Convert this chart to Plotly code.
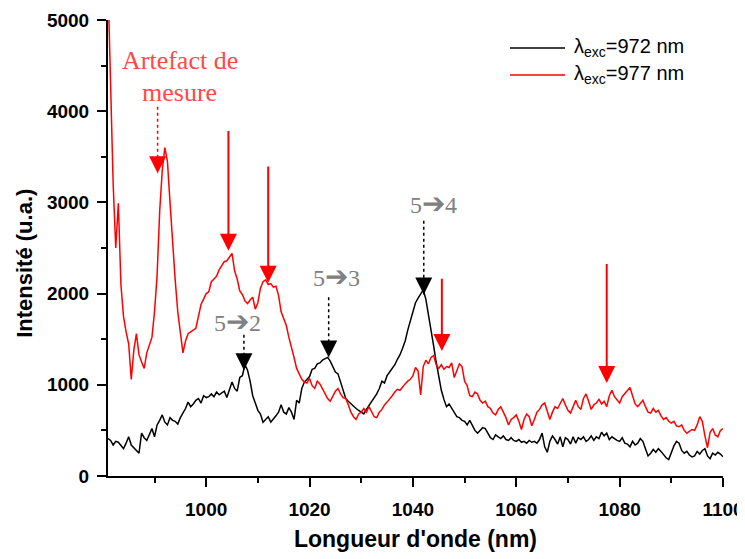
import plotly.graph_objects as go

# Wavelength grid: start and step (nm)
wl_start = 981.0
wl_step = 0.5

# Intensity, lambda_exc = 972 nm (black), 981.0 .. 1100.0 nm every 0.5 nm
int_972 = [
    410, 390, 340, 380, 370, 330, 300, 360, 430, 340,
    310, 270, 250, 470, 420, 390, 460, 520, 430, 560,
    610, 670, 590, 560, 640, 610, 600, 570, 640, 690,
    740, 810, 760, 790, 830, 850, 800, 880, 860, 870,
    900, 870, 920, 890, 910, 930, 860, 950, 1030, 960,
    930, 1080, 1100, 1220, 1160, 1040, 880, 800, 720, 680,
    590, 620, 650, 590, 620, 660, 700, 780, 700, 680,
    750, 700, 620, 830, 800, 960, 1030, 1060, 1090, 1170,
    1180, 1230, 1240, 1270, 1290, 1300, 1260, 1200, 1140, 1120,
    1030, 920, 850, 820, 790, 760, 740, 720, 700, 680,
    730, 770, 810, 850, 900, 960, 1040, 1020, 1100, 1140,
    1180, 1220, 1280, 1330, 1400, 1480, 1600, 1700, 1780, 1900,
    1950, 1990, 2040, 1940, 1780, 1620, 1430, 1250, 1080, 940,
    840, 760, 790, 740, 700, 650, 640, 610, 600, 560,
    610, 560, 500, 470, 500, 530, 520, 470, 420, 400,
    450, 430, 410, 440, 400, 390, 420, 390, 380, 400,
    370, 380, 360, 390, 370, 380, 360, 400, 470, 320,
    260, 380, 440, 400, 350, 430, 320, 420, 400, 350,
    430, 360, 420, 400, 430, 380, 400, 440, 390, 430,
    410, 480, 440, 470, 400, 430, 410, 390, 380, 420,
    360, 350, 320, 380, 340, 360, 410, 380, 300, 220,
    250, 290, 260, 300, 270, 230, 200, 180, 260, 330,
    380, 360, 280, 250, 270, 230, 210, 220, 270, 240,
    280, 300, 220, 190, 250, 230, 260, 240, 210,
]

# Intensity, lambda_exc = 977 nm (red)
int_977 = [
    5400, 4200, 3200, 2500, 2990, 2100, 1750, 1580, 1450, 1060,
    1380, 1560, 1330, 1250, 1180, 1350, 1440, 1520, 1800, 2200,
    2900, 3350, 3600, 3450, 3000, 2550, 2150, 1800, 1550, 1350,
    1480, 1560, 1580, 1600, 1620, 1750, 1880, 1940, 2000, 2020,
    2130, 2160, 2190, 2260, 2300, 2350, 2360, 2400, 2440, 2250,
    2160, 2030, 1990, 1920, 1890, 1930, 1960, 1830, 1900, 2060,
    2130, 2150, 2100, 2110, 2070, 2080, 1980, 1800, 1720, 1650,
    1520, 1420, 1300, 1180, 1120, 1060, 1030, 1020, 1070, 990,
    960, 1040, 1010, 960, 900, 850, 820, 870, 930, 960,
    900, 860, 850, 780, 700, 650, 620, 680, 700, 740,
    700, 760, 700, 650, 640, 700, 730, 780, 810, 840,
    880, 920, 950, 940, 980, 1010, 1040, 1060, 1100, 1190,
    1150, 890, 1200, 1270, 1230, 1300, 1320, 1220, 1180, 1220,
    1170, 1200, 1190, 1240, 1080, 1150, 1230, 1200, 1040, 990,
    880, 870, 920, 900, 830, 800, 820, 760, 740, 690,
    670, 730, 760, 700, 640, 560, 620, 640, 670, 600,
    510, 620, 680, 650, 550, 620, 700, 730, 780, 800,
    720, 620, 700, 760, 740, 800, 850, 780, 720, 690,
    770, 830, 760, 730, 850, 900, 820, 730, 780, 800,
    840, 790, 820, 760, 880, 940, 870, 830, 800, 870,
    900, 940, 970, 880, 790, 760, 800, 830, 760, 700,
    690, 740, 700, 720, 660, 620, 640, 600, 580, 600,
    550, 540, 560, 500, 470, 490, 510, 500, 560, 650,
    600, 440, 310, 480, 520, 450, 430, 500, 520,
]

series_names = ["\u03bb<sub>exc</sub>=972 nm", "\u03bb<sub>exc</sub>=977 nm"]
series_colors = ["#000000", "#ff0000"]

x_tick_vals = [1000, 1020, 1040, 1060, 1080, 1100]
y_tick_vals = [0, 1000, 2000, 3000, 4000, 5000]

# Solid red arrows: x, shaft top, tip
red_arrow_x = [1004.3, 1012.0, 1045.6, 1077.5]
red_arrow_top = [3800, 3410, 2180, 2340]
red_arrow_tip = [2470, 2120, 1370, 1020]

# Dotted arrows (transition labels and artefact): x, shaft top, tip, colour
dot_arrow_x = [1007.3, 1023.7, 1042.1, 990.6]
dot_arrow_top = [1550, 1960, 2800, 4050]
dot_arrow_tip = [1160, 1300, 1990, 3320]
dot_arrow_color = ["#000000", "#000000", "#000000", "#ff0000"]

# Transition labels
trans_from = ["5", "5", "5"]
trans_to = ["2", "3", "4"]
trans_x = [1006.1, 1025.3, 1043.9]
trans_y = [1690, 2190, 2990]

FONT_SANS = "Liberation Sans, Arial, sans-serif"
FONT_SERIF = "Liberation Serif, Times New Roman, serif"

fig = go.Figure()
for vals, name, col in zip([int_972, int_977], series_names, series_colors):
    fig.add_trace(go.Scatter(
        x0=wl_start, dx=wl_step, y=vals, mode="lines", name=name,
        line=dict(color=col, width=1.5), showlegend=False,
    ))

annotations = []
shapes = []

# solid red arrows
for x, top, tip in zip(red_arrow_x, red_arrow_top, red_arrow_tip):
    annotations.append(dict(
        x=x, y=tip, ax=x, ay=top, xref="x", yref="y", axref="x", ayref="y",
        text="", showarrow=True, arrowhead=2, arrowsize=1.7, arrowwidth=2,
        arrowcolor="#ff0000", standoff=0,
    ))

# dotted arrows: dotted shaft as a line trace + head as a short annotation arrow
for x, top, tip, col in zip(dot_arrow_x, dot_arrow_top, dot_arrow_tip, dot_arrow_color):
    fig.add_trace(go.Scatter(
        x=[x, x], y=[top, tip], mode="lines", showlegend=False, hoverinfo="skip",
        line=dict(color=col, width=1.5, dash="dot"),
    ))
    annotations.append(dict(
        x=x, y=tip, ax=0, ay=-17, xref="x", yref="y",
        text="", showarrow=True, arrowhead=2, arrowsize=1.7, arrowwidth=2,
        arrowcolor=col, standoff=0,
    ))

for a, b, x, y in zip(trans_from, trans_to, trans_x, trans_y):
    annotations.append(dict(
        x=x, y=y, xref="x", yref="y",
        text=a + "<span style='font-size:28px'>\u2794</span>" + b,
        showarrow=False,
        font=dict(family=FONT_SERIF, size=24, color="#808080"),
    ))

annotations.append(dict(
    x=994.9, y=4560, xref="x", yref="y", text="Artefact de", showarrow=False,
    font=dict(family=FONT_SERIF, size=26, color="#ff4848"),
))
annotations.append(dict(
    x=994.9, y=4210, xref="x", yref="y", text="mesure", showarrow=False,
    font=dict(family=FONT_SERIF, size=26, color="#ff4848"),
))

# y-axis title
annotations.append(dict(
    x=-0.137, y=0.467, xref="paper", yref="paper", text="<b>Intensit\u00e9 (u.a.)</b>",
    textangle=-90, showarrow=False, xanchor="center", yanchor="middle",
    font=dict(family=FONT_SANS, size=22, color="#000000"),
))

# legend (drawn in paper coordinates)
leg_line_x0, leg_line_x1, leg_text_x = 0.6537, 0.7431, 0.7545
leg_rows_y = [0.9386, 0.8794]
for name, col, ly in zip(series_names, series_colors, leg_rows_y):
    shapes.append(dict(type="line", xref="paper", yref="paper",
                       x0=leg_line_x0, x1=leg_line_x1, y0=ly, y1=ly,
                       line=dict(color=col, width=1.5)))
    annotations.append(dict(
        x=leg_text_x, y=ly, xref="paper", yref="paper", text=name,
        showarrow=False, xanchor="left", yanchor="middle",
        font=dict(family=FONT_SANS, size=20, color="#000000"),
    ))

fig.update_layout(
    width=737, height=551,
    margin=dict(l=100, r=22, t=12, b=83, autoexpand=False),
    paper_bgcolor="white", plot_bgcolor="white",
    showlegend=False,
    annotations=annotations,
    shapes=shapes,
    xaxis=dict(
        range=[981, 1100], tickvals=x_tick_vals, automargin=False,
        ticks="outside", ticklen=9, tickwidth=2, tickcolor="#000",
        ticklabelstandoff=6,
        minor=dict(dtick=10, tick0=1000, ticks="outside", ticklen=5, tickwidth=2, tickcolor="#000"),
        showline=True, linecolor="#000", linewidth=2,
        showgrid=False, zeroline=False,
        tickfont=dict(family=FONT_SANS, size=19, color="#000", weight="bold"),
        title=dict(text="<b>Longueur d'onde (nm)</b>", standoff=12,
                   font=dict(family=FONT_SANS, size=23, color="#000")),
    ),
    yaxis=dict(
        range=[0, 5000], tickvals=y_tick_vals, automargin=False,
        ticks="outside", ticklen=9, tickwidth=2, tickcolor="#000",
        ticklabelstandoff=4,
        minor=dict(dtick=500, tick0=0, ticks="outside", ticklen=5, tickwidth=2, tickcolor="#000"),
        showline=True, linecolor="#000", linewidth=2,
        showgrid=False, zeroline=False,
        tickfont=dict(family=FONT_SANS, size=19, color="#000", weight="bold"),
    ),
)

fig.write_html("out.html")
